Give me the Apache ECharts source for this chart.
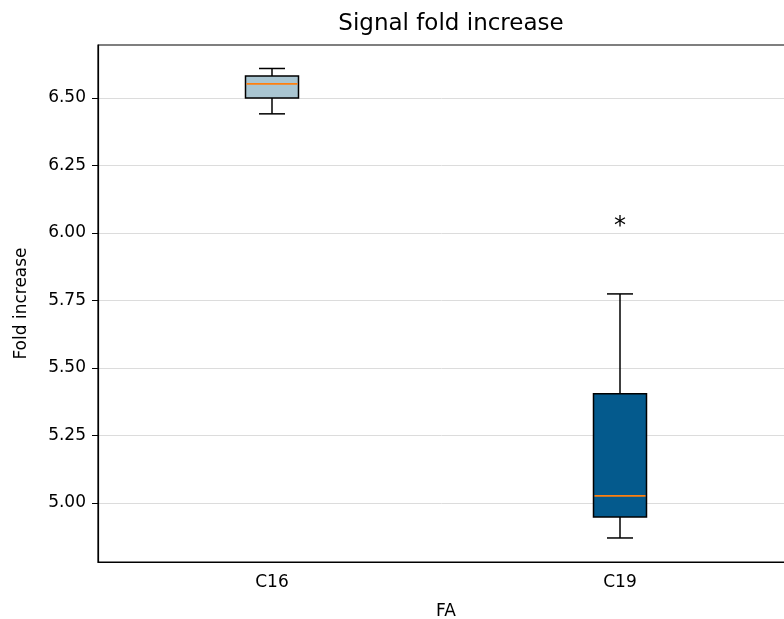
<!DOCTYPE html>
<html>
<head>
<meta charset="utf-8">
<script src="https://cdn.jsdelivr.net/npm/echarts@6/dist/echarts.min.js"></script>
<style>
  html, body { margin: 0; padding: 0; background: #fff; }
  #chart { width: 784px; height: 619px; }
</style>
</head>
<body>
<div id="chart"></div>
<script>
// box statistics
const categories = ['C16', 'C19']
const whiskerLow = [6.441, 4.870]
const q1 = [6.500, 4.948]
const median = [6.552, 5.026]
const q3 = [6.581, 5.404]
const whiskerHigh = [6.609, 5.774]
const boxColors = ['#a9c5d1', '#045a8d']
// outliers: [category index, value]
const outliers = [[1, 6.033]]
const yTicks = [5.00, 5.25, 5.50, 5.75, 6.00, 6.25, 6.50]

const FONT = 'DejaVu Sans'
const BOX_HALF = 26.5
const CAP_HALF = 13

const boxData = categories.map((c, i) => [i, whiskerLow[i], q1[i], median[i], q3[i], whiskerHigh[i]])

function line(x1, y1, x2, y2, color, width) {
  return {
    type: 'line',
    shape: { x1, y1, x2, y2 },
    style: { stroke: color, lineWidth: width }
  }
}

function renderBox(params, api) {
  const i = api.value(0)
  const lo = api.coord([i, api.value(1)])
  const b1 = api.coord([i, api.value(2)])
  const md = api.coord([i, api.value(3)])
  const b3 = api.coord([i, api.value(4)])
  const hi = api.coord([i, api.value(5)])
  const x = lo[0]
  return {
    type: 'group',
    children: [
      line(x, b1[1], x, lo[1], '#000', 1.5),
      line(x, b3[1], x, hi[1], '#000', 1.5),
      line(x - CAP_HALF, lo[1], x + CAP_HALF, lo[1], '#000', 1.5),
      line(x - CAP_HALF, hi[1], x + CAP_HALF, hi[1], '#000', 1.5),
      {
        type: 'rect',
        shape: { x: x - BOX_HALF, y: b3[1], width: BOX_HALF * 2, height: b1[1] - b3[1] },
        style: { fill: boxColors[i], stroke: '#000', lineWidth: 1.5 }
      },
      line(x - BOX_HALF + 1, md[1], x + BOX_HALF - 1, md[1], '#ff7f0e', 1.8)
    ]
  }
}

function renderOutlier(params, api) {
  const p = api.coord([api.value(0), api.value(1)])
  return {
    type: 'text',
    x: p[0],
    y: p[1] + 3,
    style: {
      text: '*',
      fontFamily: FONT,
      fontSize: 24,
      fill: '#000',
      align: 'center',
      verticalAlign: 'middle'
    }
  }
}

const chart = echarts.init(document.getElementById('chart'))

chart.setOption({
  animation: false,
  backgroundColor: '#fff',
  textStyle: { fontFamily: FONT },
  title: {
    text: 'Signal fold increase',
    left: 446,
    top: 8,
    textAlign: 'center',
    textStyle: { fontFamily: FONT, fontSize: 23, fontWeight: 'normal', color: '#000' }
  },
  grid: {
    left: 98,
    top: 45,
    width: 696,
    height: 517,
    outerBoundsMode: 'none',
    show: true,
    borderColor: '#000',
    borderWidth: 1.2,
    backgroundColor: '#fff'
  },
  xAxis: {
    type: 'category',
    data: categories,
    boundaryGap: true,
    name: 'FA',
    nameLocation: 'middle',
    nameGap: 41,
    nameTextStyle: { fontFamily: FONT, fontSize: 17, color: '#000' },
    axisLine: { lineStyle: { color: '#000', width: 1.2 } },
    axisTick: { alignWithLabel: true, length: 6, lineStyle: { color: '#000' } },
    axisLabel: { fontFamily: FONT, fontSize: 17, color: '#000', margin: 12 },
    splitLine: { show: false }
  },
  yAxis: {
    type: 'value',
    min: 4.781,
    max: 6.696,
    name: 'Fold increase',
    nameLocation: 'middle',
    nameRotate: 90,
    nameGap: 68,
    nameTextStyle: { fontFamily: FONT, fontSize: 17, color: '#000' },
    axisLine: { show: true, lineStyle: { color: '#000', width: 1.2 } },
    axisTick: { show: true, length: 6, lineStyle: { color: '#000' }, customValues: yTicks },
    axisLabel: {
      fontFamily: FONT,
      fontSize: 17,
      color: '#000',
      margin: 12,
      customValues: yTicks,
      formatter: v => v.toFixed(2)
    },
    splitLine: { show: true, lineStyle: { color: '#dcdcdc', width: 1 } }
  },
  series: [
    {
      type: 'custom',
      renderItem: renderBox,
      encode: { x: 0, y: [1, 2, 3, 4, 5] },
      data: boxData,
      z: 3
    },
    {
      type: 'custom',
      renderItem: renderOutlier,
      encode: { x: 0, y: 1 },
      data: outliers,
      z: 4
    }
  ]
})
</script>
</body>
</html>
